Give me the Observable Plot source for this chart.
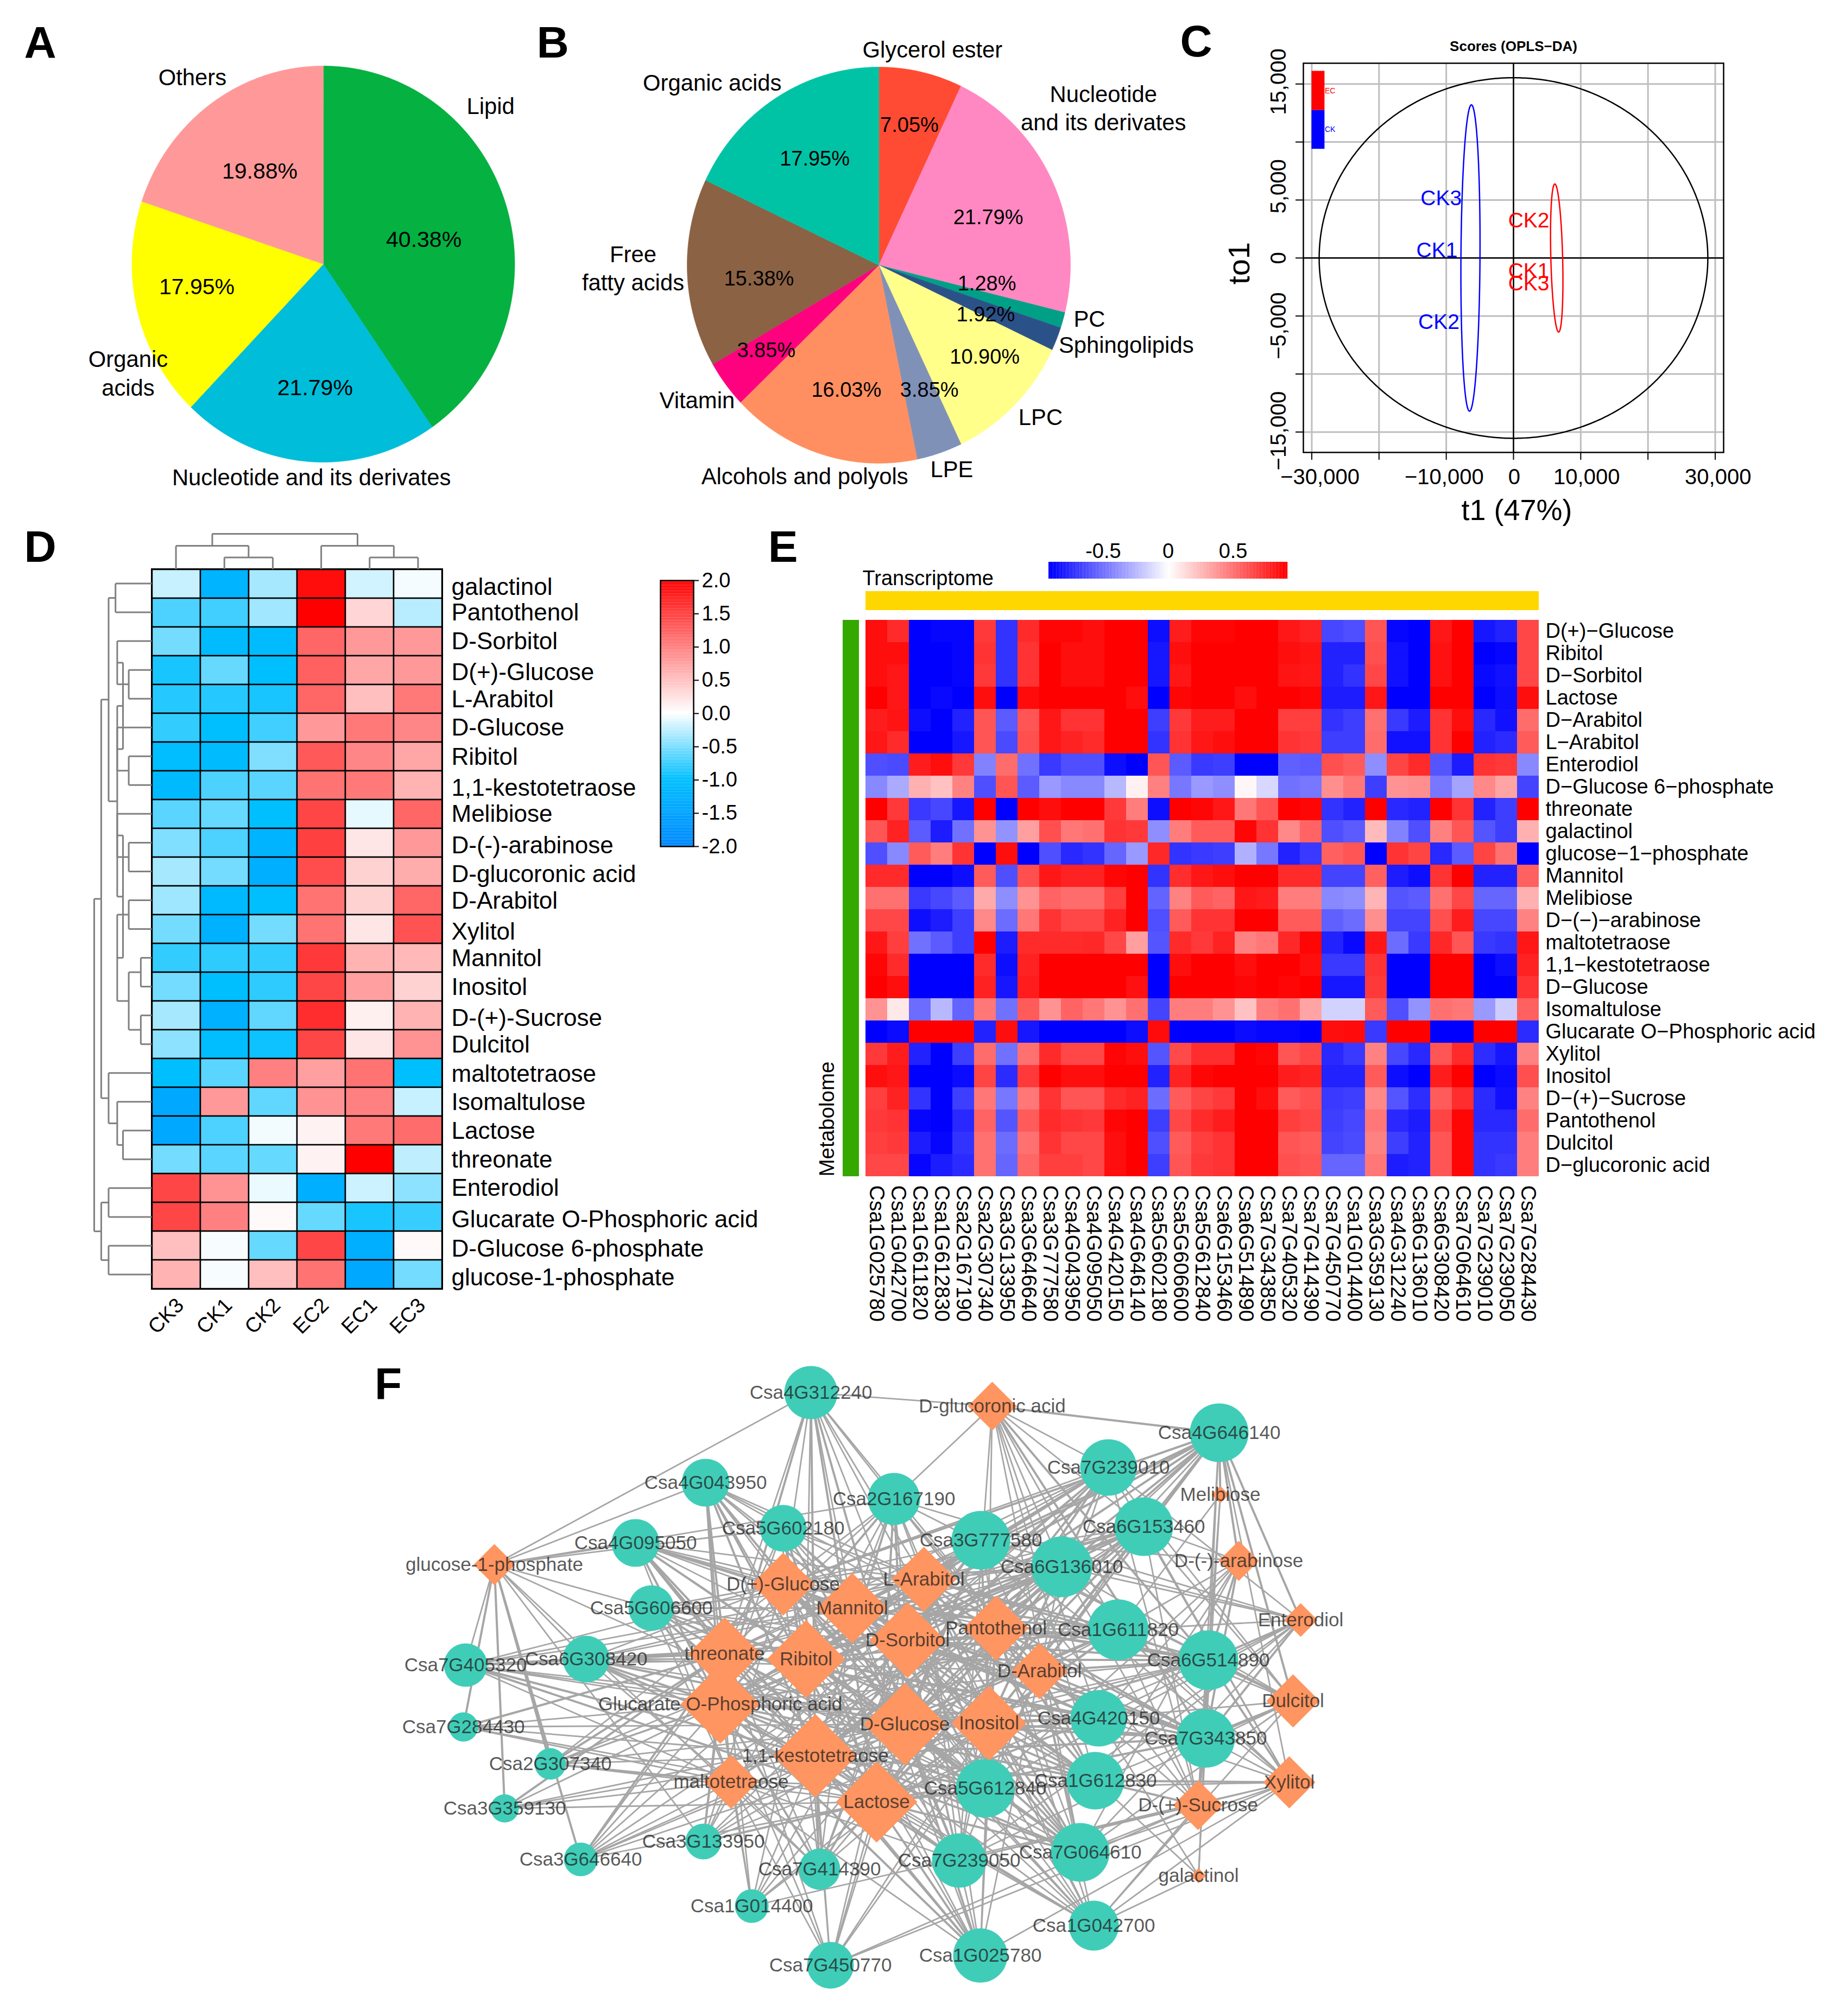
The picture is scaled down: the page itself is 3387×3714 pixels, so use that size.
<!DOCTYPE html>
<html><head><meta charset="utf-8">
<script src="https://cdn.jsdelivr.net/npm/d3@7"></script>
<script src="https://cdn.jsdelivr.net/npm/@observablehq/plot@0.6"></script>
<style>
html,body{margin:0;background:#fff}
#page{position:relative;width:3387px;height:3714px;overflow:hidden;font-family:"Liberation Sans",Arial,sans-serif}
.letter{position:absolute;font:bold 82px/1 "Liberation Sans",Arial,sans-serif;transform:translate(-50%,-50%)}
</style></head><body><div id="page"></div>
<script>
// ---------- DATA ----------
const pieANames=["Lipid","Nucleotide and its derivates","Organic acids","Others"];
const pieAValues=[40.38,21.79,17.95,19.88];
const pieAColors=["#04B141","#00BDD9","#FFFF00","#FF9999"];
const pieBNames=["Glycerol ester","Nucleotide and its derivates","PC","Sphingolipids","LPC","LPE","Alcohols and polyols","Vitamin","Free fatty acids","Organic acids"];
const pieBValues=[7.05,21.79,1.28,1.92,10.90,3.85,16.03,3.85,15.38,17.95];
const pieBColors=["#FF4B33","#FF88C2","#00A087","#2B5288","#FFFF8A","#8091B8","#FF8F60","#FF007F","#8B6244","#00C3A6"];
// label anchors, in units of the pie radius
const pieALabels=[["Lipid",.874,.797],["Others",-.684,.942],["Organic\nacids",-1.02,-.553],["Nucleotide and its derivates",-.062,-1.079]];
const pieAPct=[["40.38%",.525,.123],["19.88%",-.332,.468],["17.95%",-.661,-.116],["21.79%",-.043,-.625]];
const pieBLabels=[["Glycerol ester",.28,1.085],["Organic acids",-.869,.919],["Nucleotide\nand its derivates",1.172,.789],["Free\nfatty acids",-1.282,-.02],["Vitamin",-.948,-.685],["Alcohols and polyols",-.386,-1.068],["LPE",.381,-1.033],["LPC",.844,-.77],["PC",1.099,-.274],["Sphingolipids",1.291,-.406]];
const pieBPct=[["7.05%",.16,.705],["21.79%",.571,.239],["17.95%",-.334,.537],["15.38%",-.625,-.07],["1.28%",.564,-.095],["1.92%",.558,-.249],["10.90%",.553,-.464],["3.85%",-.587,-.431],["16.03%",-.169,-.632],["3.85%",.264,-.632]];

// Panel C scores
const scoreLabels=[["CK3",-10765,5160,"blue"],["CK1",-11390,624,"blue"],["CK2",-11100,-5530,"blue"],["CK2",2270,3230,"red"],["CK1",2270,-1134,"red"],["CK3",2270,-2212,"red"]];
const ellipses=[{cx:0,a:28900,b:0,ry:15540,color:"black"},{cx:-6400,a:1416,b:140,ry:13200,color:"blue"},{cx:6430,a:878,b:-283,ry:6380,color:"red"}];
const scoreXTicks=[-30000,-20000,-10000,0,10000,20000,30000];
const scoreYTicks=[-15000,-10000,-5000,0,5000,10000,15000];
// tick texts and the axis position where the reference prints each one
const scoreXShown=[-30000,-10000,0,10000,30000];
const scoreXTextAt=[-28780,-10310,110,10880,30425];
const scoreYShown=[-15000,-5000,0,5000,15000];
const scoreYTextAt=[-14890,-5840,0,6180,15200];
const scoreKey=[{name:"EC",y1:12730,y2:16110,color:"red"},{name:"CK",y1:9390,y2:12730,color:"blue"}];

// Panel D
const dCols=["CK3","CK1","CK2","EC2","EC1","EC3"];
const dRows=["galactinol","Pantothenol","D-Sorbitol","D(+)-Glucose","L-Arabitol","D-Glucose","Ribitol","1,1-kestotetraose","Melibiose","D-(-)-arabinose","D-glucoronic acid","D-Arabitol","Xylitol","Mannitol","Inositol","D-(+)-Sucrose","Dulcitol","maltotetraose","Isomaltulose","Lactose","threonate","Enterodiol","Glucarate O-Phosphoric acid","D-Glucose 6-phosphate","glucose-1-phosphate"];
const dRowLabelDrop=[6,0,0,4,1,0,1,5,0,5,5,1,5,1,1,5,1,2,1,1,1,0,5,6,6];
const dValues=[
[-.22,-1.2,-.35,1.9,-.18,-.04],[-.7,-.75,-.37,2,.33,-.28],[-.55,-1.05,-1.05,1.2,.8,.8],[-.9,-.6,-1,1.25,.7,.8],[-.85,-.85,-.9,1.2,.5,1.05],
[-.8,-1,-.75,.8,1.05,.95],[-1.02,-1.05,-.5,1.3,.95,.7],[-1.1,-.7,-.65,1.1,1.05,.6],[-.65,-.6,-1,1.45,-.1,1.2],[-.5,-.7,-1.2,1.5,.2,.8],
[-.35,-.55,-1.3,1.4,.35,.65],[-.38,-1.1,-1,1.1,.35,1.2],[-.55,-1.25,-.55,1.1,.2,1.35],[-.8,-.82,-.8,1.55,.6,.55],[-.55,-1,-.82,1.45,.75,.35],
[-.35,-1.25,-.62,1.65,.12,.6],[-.45,-1.02,-.95,1.45,.2,.85],[-1,-.65,1,.75,1.1,-1],[-1.4,.8,-.62,.85,1,-.22],[-1.4,-.7,-.05,.1,1.05,1.15],
[-.55,-.65,-.6,.1,2,-.25],[1.45,.85,-.08,-1.3,-.2,-.45],[1.45,1,.05,-.6,-.9,-.78],[.5,-.03,-.6,1.45,-1.3,.05],[.6,-.03,.5,1.1,-1.4,-.55]];
const dRowTree=[1,[.878,[.75,[.63,"galactinol","Pantothenol"],[.6,[.5,[.6,"D-Sorbitol",[.4,"D(+)-Glucose","L-Arabitol"]],[.6,"D-Glucose",[.4,"Ribitol","1,1-kestotetraose"]]],[.5,[.6,"Melibiose",[.4,"D-(-)-arabinose","D-glucoronic acid"]],[.6,[.4,"D-Arabitol","Xylitol"],[.4,[.19,"Mannitol","Inositol"],[.19,"D-(+)-Sucrose","Dulcitol"]]]]]],[.75,"maltotetraose",[.6,"Isomaltulose",[.5,"Lactose","threonate"]]]],[.878,[.75,"Enterodiol","Glucarate O-Phosphoric acid"],[.75,"D-Glucose 6-phosphate","glucose-1-phosphate"]]];
const dColTree=[1,[.66,"CK3",[.33,"CK1","CK2"]],[.66,"EC2",[.33,"EC1","EC3"]]];
const dLegendTicks=[-2,-1.5,-1,-.5,0,.5,1,1.5,2];

// Panel E
const eCols=["Csa1G025780","Csa1G042700","Csa1G611820","Csa1G612830","Csa2G167190","Csa2G307340","Csa3G133950","Csa3G646640","Csa3G777580","Csa4G043950","Csa4G095050","Csa4G420150","Csa4G646140","Csa5G602180","Csa5G606600","Csa5G612840","Csa6G153460","Csa6G514890","Csa7G343850","Csa7G405320","Csa7G414390","Csa7G450770","Csa1G014400","Csa3G359130","Csa4G312240","Csa6G136010","Csa6G308420","Csa7G064610","Csa7G239010","Csa7G239050","Csa7G284430"];
const eRows=["D(+)−Glucose","Ribitol","D−Sorbitol","Lactose","D−Arabitol","L−Arabitol","Enterodiol","D−Glucose 6−phosphate","threonate","galactinol","glucose−1−phosphate","Mannitol","Melibiose","D−(−)−arabinose","maltotetraose","1,1−kestotetraose","D−Glucose","Isomaltulose","Glucarate O−Phosphoric acid","Xylitol","Inositol","D−(+)−Sucrose","Pantothenol","Dulcitol","D−glucoronic acid"];
// correlation x 100
const eValues=[
[85,75,-90,-88,-88,70,-72,75,88,88,85,90,90,-85,80,88,88,90,90,82,78,-65,-62,60,-88,-90,82,90,-82,-78,65],
[85,85,-90,-90,-88,72,-72,72,90,85,85,90,90,-82,85,90,90,90,90,85,83,-78,-78,62,-84,-90,84,90,-90,-88,65],
[85,82,-90,-90,-88,70,-72,72,90,85,85,90,90,-82,82,90,90,90,90,83,82,-78,-72,65,-84,-90,84,90,-87,-84,65],
[90,82,-90,-87,-90,85,-90,86,90,90,90,90,85,-90,88,90,90,85,90,90,88,-80,-80,82,-90,-90,90,90,-90,-85,85],
[80,83,-85,-90,-78,60,-58,60,82,72,72,90,90,-68,70,80,80,90,90,68,68,-72,-68,50,-70,-80,72,85,-76,-84,52],
[82,75,-90,-90,-82,60,-64,62,82,78,75,90,90,-72,72,82,85,90,90,72,70,-68,-68,52,-84,-84,72,90,-78,-75,58],
[-62,-64,80,85,70,-44,52,-50,-70,-62,-62,-85,-90,60,-58,-70,-68,-90,-90,-56,-58,62,58,-40,66,75,-60,-80,72,70,-42],
[-42,-30,28,22,44,-62,60,-58,-36,-42,-42,-25,5,45,-48,-36,-40,3,-14,-50,-48,40,48,-68,38,40,-48,-32,42,32,-66],
[90,70,-70,-65,-82,90,-90,90,85,90,90,70,46,-85,90,88,82,48,60,90,88,-72,-78,90,-76,-78,90,72,-78,-68,90],
[60,78,-58,-80,-50,38,-38,34,62,48,50,72,70,-40,46,58,58,88,72,42,55,-62,-58,24,-44,-62,45,60,-60,-68,28],
[-62,-42,58,46,72,-90,85,-90,-62,-76,-72,-54,-36,76,-72,-70,-68,-28,-48,-78,-70,56,60,-90,72,66,-76,-58,66,50,-90],
[75,75,-90,-90,-85,58,-62,62,82,78,78,88,90,-72,74,82,85,90,90,75,75,-66,-66,56,-80,-85,72,90,-78,-78,56],
[50,50,-70,-65,-58,30,-40,38,55,52,52,68,90,-55,44,58,55,82,80,46,46,-42,-40,26,-60,-58,50,65,-54,-54,28],
[65,65,-85,-80,-68,42,-52,48,72,65,65,78,90,-62,58,72,72,90,90,58,58,-56,-52,40,-66,-66,62,80,-65,-65,44],
[82,68,-50,-58,-68,90,-80,75,75,75,76,65,34,-60,75,70,78,44,48,76,88,-78,-87,82,-52,-70,76,60,-70,-72,82],
[88,75,-90,-90,-90,75,-85,78,90,90,90,90,90,-90,85,90,90,85,90,90,85,-70,-70,72,-90,-90,90,90,-90,-85,78],
[90,85,-90,-90,-90,78,-82,80,90,90,90,90,84,-90,90,90,90,88,90,88,90,-82,-82,70,-90,-90,90,90,-90,-90,72],
[38,8,-52,-25,-55,48,-50,58,38,55,48,38,50,-66,46,46,38,22,46,50,32,-16,-16,58,-62,-38,50,48,-36,-18,56],
[-90,-86,90,90,90,-78,85,-82,-90,-90,-90,-90,-85,86,-90,-90,-90,-86,-88,-88,-90,85,86,-70,90,90,-90,-90,90,90,-75],
[70,80,-78,-90,-68,52,-50,50,75,65,65,88,85,-60,64,74,74,90,88,60,65,-76,-70,44,-65,-76,60,75,-74,-82,44],
[85,82,-90,-90,-86,66,-75,70,90,85,85,90,90,-78,78,88,90,90,90,80,78,-78,-78,58,-85,-90,80,90,-90,-86,62],
[68,78,-72,-90,-68,48,-48,48,72,60,60,75,78,-52,58,66,70,90,85,58,62,-70,-68,42,-60,-74,58,74,-75,-84,44],
[70,72,-88,-90,-76,55,-60,58,75,72,70,88,90,-68,65,75,80,90,90,68,65,-68,-65,48,-76,-80,66,88,-76,-76,52],
[68,70,-80,-88,-72,50,-52,50,72,65,65,85,90,-62,58,68,72,90,90,60,58,-66,-64,44,-68,-78,60,88,-72,-72,46],
[65,65,-88,-80,-75,50,-54,54,68,68,65,85,90,-68,60,70,72,90,90,62,60,-54,-54,48,-80,-78,60,88,-72,-70,46]];

// Panel F network layout (node order of genes follows eCols)
const netGeneX=[1805,2014,2059,2017,1646,1013,1295,1069,1806,1299,1170,2023,2245,1442,1199,1814,2106,2225,2220,857,1509,1529,1384,929,1493,1955,1079,1989,2041,1766,853];
const netGeneY=[3602,3547,3002,3280,2761,3249,3392,3425,2837,2731,2842,3165,2639,2815,2962,3294,2812,3058,3202,3067,3443,3620,3511,3331,2565,2886,3056,3412,2703,3427,3181];
const netGeneSize=[50,46,56,53,48,29,33,31,54,44,44,52,54,43,42,54,54,55,54,40,38,43,31,26,49,56,43,54,52,50,27];
const netMetabolites=["glucose-1-phosphate","D-glucoronic acid","D(+)-Glucose","Mannitol","L-Arabitol","threonate","Ribitol","D-Sorbitol","Pantothenol","Glucarate O-Phosphoric acid","D-Glucose","Inositol","D-Arabitol","1,1-kestotetraose","maltotetraose","Lactose","D-(+)-Sucrose","Xylitol","Dulcitol","Enterodiol","D-(-)-arabinose","Melibiose","galactinol"];
const netMetX=[910,1827,1442,1569,1701,1334,1484,1671,1834,1326,1666,1821,1914,1501,1346,1614,2206,2374,2381,2395,2281,2247,2207];
const netMetY=[2882,2590,2918,2962,2909,3046,3056,3021,2999,3139,3176,3174,3078,3234,3282,3319,3325,3283,3133,2984,2875,2753,3455];
const netMetSize=[38,45,58,65,60,67,72,70,60,73,76,69,52,77,50,75,46,48,49,31,37,16,14];
const netEdgeCut=70; // correlation x 100 at which a metabolite–gene edge is drawn

// ---------- HELPERS ----------
const page=document.getElementById("page");
const FONT='"Liberation Sans",Arial,sans-serif';
function place(left,top,opts){
  const svg=Plot.plot({style:{position:"absolute",left:left+"px",top:top+"px",background:"transparent",overflow:"visible",fontFamily:FONT,maxWidth:"none",color:"black"},...opts});
  page.appendChild(svg);return svg;
}
function letter(t,x,y){const d=document.createElement("div");d.className="letter";d.textContent=t;d.style.left=x+"px";d.style.top=y+"px";page.appendChild(d);}
function wedges(names,values){
  const total=d3.sum(values);let acc=0;const pts=[];
  names.forEach((name,i)=>{
    const a0=acc/total*2*Math.PI;acc+=values[i];const a1=acc/total*2*Math.PI;
    pts.push({name,ux:0,uy:0});
    const n=Math.max(2,Math.ceil((a1-a0)/0.01));
    for(let k=0;k<=n;k++){const a=a0+(a1-a0)*k/n;pts.push({name,ux:Math.sin(a),uy:Math.cos(a)});}
  });return pts;
}
function pie(left,top,W,H,cx,cy,rx,ry,names,values,colors,labels,pct,labelSize,pctSize,lh){
  place(left,top,{width:W,height:H,margin:0,
    x:{domain:[(left-cx)/rx,(left+W-cx)/rx],range:[0,W],axis:null},
    y:{domain:[(cy-top)/ry,(cy-top-H)/ry],range:[0,H],axis:null},
    color:{domain:names,range:colors},
    marks:[
      Plot.line(wedges(names,values),{x:"ux",y:"uy",z:"name",fill:"name",stroke:"name",strokeWidth:.6,curve:"linear-closed"}),
      Plot.text(labels,{x:d=>d[1],y:d=>d[2],text:d=>d[0],fontSize:labelSize,lineHeight:lh,fill:"black",dy:-3}),
      Plot.text(pct,{x:d=>d[1],y:d=>d[2],text:d=>d[0],fontSize:pctSize,fill:"black"})
    ]});
}
function dendro(tree){
  const segs=[];let leaf=0;
  (function walk(n){
    if(!Array.isArray(n))return{pos:leaf++ +.5,h:0};
    const A=walk(n[1]),B=walk(n[2]),h=n[0];
    segs.push({h1:h,p1:A.pos,h2:h,p2:B.pos},{h1:A.h,p1:A.pos,h2:h,p2:A.pos},{h1:B.h,p1:B.pos,h2:h,p2:B.pos});
    return{pos:(A.pos+B.pos)/2,h};
  })(tree);
  return segs;
}

// ---------- A, B ----------
letter("A",74,78);letter("B",1018,78);letter("C",2203,76);letter("D",74,1007);letter("E",1442,1007);letter("F",715,2550);
pie(0,0,1100,950,595,486,352.5,365,pieANames,pieAValues,pieAColors,pieALabels,pieAPct,41.8,41,1.27);
pie(1000,0,1250,950,1618,488,353,365,pieBNames,pieBValues,pieBColors,pieBLabels,pieBPct,41.8,38,1.24);

// ---------- C ----------
(function(){
  const fmt=d3.format(",");
  const xL=-31250,yB=-16760,marks=[];
  marks.push(Plot.ruleX(scoreXTicks,{stroke:"#bebebe",strokeWidth:3}));
  marks.push(Plot.ruleY(scoreYTicks,{stroke:"#bebebe",strokeWidth:3}));
  marks.push(Plot.ruleX([0],{stroke:"black",strokeWidth:2.5}));
  marks.push(Plot.ruleY([0],{stroke:"black",strokeWidth:2.5}));
  ellipses.forEach(e=>{
    const pts=d3.range(0,2*Math.PI+.01,.01).map(t=>({x:e.cx+e.a*Math.cos(t)+e.b*Math.sin(t),y:e.ry*Math.sin(t)}));
    marks.push(Plot.line(pts,{x:"x",y:"y",stroke:e.color,strokeWidth:2.5}));
  });
  marks.push(Plot.rect(scoreKey,{x1:-30000,x2:-28070,y1:"y1",y2:"y2",fill:"color"}));
  marks.push(Plot.text(scoreKey,{x:-28070,y:d=>(d.y1+d.y2)/2,text:"name",fill:"color",fontSize:14,textAnchor:"start"}));
  marks.push(Plot.text(scoreLabels,{x:d=>d[1],y:d=>d[2],text:d=>d[0],fill:d=>d[3],fontSize:39}));
  marks.push(Plot.axisX(scoreXTicks,{anchor:"bottom",tickSize:14,strokeWidth:2,label:null,tickFormat:()=>""}));
  marks.push(Plot.axisY(scoreYTicks,{anchor:"left",tickSize:14,strokeWidth:2,label:null,tickFormat:()=>""}));
  marks.push(Plot.text(scoreXShown,{x:(d,i)=>scoreXTextAt[i],y:yB,text:d=>fmt(d),dy:46,fontSize:40}));
  marks.push(Plot.text(scoreYShown,{x:xL,y:(d,i)=>scoreYTextAt[i],text:d=>fmt(d),rotate:-90,dx:-45,fontSize:40}));
  marks.push(Plot.frame({stroke:"black",strokeWidth:2.5}));
  marks.push(Plot.text(["Scores (OPLS−DA)"],{frameAnchor:"top",lineAnchor:"middle",dy:-31,fontSize:26,fontWeight:"bold"}));
  marks.push(Plot.text(["t1 (47%)"],{frameAnchor:"bottom",lineAnchor:"middle",dy:107,dx:6,fontSize:54}));
  marks.push(Plot.text(["to1"],{frameAnchor:"left",rotate:-90,dx:-117,dy:10,fontSize:56,lineAnchor:"middle",textAnchor:"middle"}));
  place(2250,60,{width:1000,height:900,marginLeft:150,marginTop:56,marginRight:76,marginBottom:127,
    x:{domain:[xL,31250],axis:null},y:{domain:[yB,16790],axis:null},color:{type:"identity"},marks});
})();

// ---------- D ----------
const dCells=dRows.flatMap((row,i)=>dCols.map((col,j)=>({row,col,v:dValues[i][j]})));
const dColor={type:"linear",domain:[-2,-1,0,2],range:["#0088FF","#00BFFF","#FFFFFF","#FF0000"]};
place(279,1047.6,{width:535+720,height:1326+110,marginLeft:0,marginTop:0,marginRight:720,marginBottom:110,
  x:{domain:dCols,padding:0,axis:null},y:{domain:dRows,padding:0,axis:null},color:dColor,
  marks:[
    Plot.cell(dCells,{x:"col",y:"row",fill:"v",stroke:"black",strokeWidth:2.5}),
    Plot.frame({stroke:"black",strokeWidth:3}),
    ...d3.groups(dRows,(d,i)=>dRowLabelDrop[dRows.indexOf(d)]).map(([drop,rows])=>
      Plot.text(rows,{frameAnchor:"right",y:d=>d,text:d=>d,textAnchor:"start",dx:17,dy:drop,fontSize:44})),
    Plot.axisX({anchor:"bottom",tickSize:0,tickPadding:24,dx:7,tickRotate:-45,fontSize:38,label:null})
  ]});
place(173,1047.6,{width:106,height:1326,margin:0,x:{domain:[1,0],range:[0,106],axis:null},y:{domain:[0,25],range:[0,1326],axis:null},
  marks:[Plot.link(dendro(dRowTree),{x1:"h1",y1:"p1",x2:"h2",y2:"p2",stroke:"#808080",strokeWidth:3})]});
place(279,982.5,{width:535,height:65,margin:0,x:{domain:[0,6],range:[0,535],axis:null},y:{domain:[0,1],range:[65,0],axis:null},
  marks:[Plot.link(dendro(dColTree),{x1:"p1",y1:"h1",x2:"p2",y2:"h2",stroke:"#808080",strokeWidth:3})]});
place(1216,1069,{width:61+130,height:490,marginLeft:0,marginRight:130,marginTop:0,marginBottom:0,
  x:{domain:[0,1],axis:null},y:{domain:[-2,2],axis:null},color:dColor,
  marks:[
    Plot.rect(d3.range(-2,2,.02).map(v=>({v})),{x1:0,x2:1,y1:"v",y2:d=>d.v+.021,fill:"v"}),
    Plot.frame({stroke:"black",strokeWidth:2.5}),
    Plot.axisY(dLegendTicks,{anchor:"right",tickSize:9,tickPadding:6,fontSize:38,strokeWidth:2,label:null,tickFormat:d=>d.toFixed(1)})
  ]});

// ---------- E ----------
const eCells=eRows.flatMap((row,i)=>eCols.map((col,j)=>({row,col,v:eValues[i][j]/100})));
const eColor={type:"linear",domain:[-.9,0,.9],range:["#0000FF","#FFFFFF","#FF0000"]};
place(1587.6,1132,{width:1252+600,height:1045+270,marginLeft:0,marginTop:0,marginRight:600,marginBottom:270,
  x:{domain:eCols,padding:0,axis:null},y:{domain:eRows,padding:0,axis:null},color:eColor,
  marks:[
    Plot.cell(eCells,{x:"col",y:"row",fill:"v"}),
    Plot.axisY({anchor:"right",tickSize:0,tickPadding:6,fontSize:38,label:null}),
    Plot.axisX({anchor:"bottom",tickSize:0,tickPadding:6,tickRotate:90,fontSize:39,label:null})
  ]});
place(1587.6,1020,{width:1252,height:104,marginLeft:0,marginRight:0,marginBottom:0,marginTop:69,
  x:{domain:eCols,padding:0,axis:null},y:{domain:["Transcriptome"],padding:0,axis:null},
  marks:[Plot.cell(eCols,{x:d=>d,y:()=>"Transcriptome",fill:"#FFD700"}),
    Plot.text(["Transcriptome"],{frameAnchor:"top-left",lineAnchor:"bottom",textAnchor:"start",dy:-12,fontSize:38})]});
place(1500,1132,{width:82,height:1045,marginLeft:52,marginRight:0,marginTop:0,marginBottom:0,
  x:{domain:["Metabolome"],padding:0,axis:null},y:{domain:eRows,padding:0,axis:null},
  marks:[Plot.cell(eRows,{x:()=>"Metabolome",y:d=>d,fill:"#35A800"}),
    Plot.text(["Metabolome"],{frameAnchor:"bottom-left",rotate:-90,textAnchor:"start",lineAnchor:"middle",dx:-29,dy:-10,fontSize:38.5})]});
place(1931,985,{width:440,height:81,marginLeft:0,marginRight:0,marginBottom:0,marginTop:50,
  x:{domain:[-.92,.92],axis:null},y:{domain:[0,1],axis:null},color:eColor,
  marks:[Plot.rect(d3.range(-.92,.92,.01).map(v=>({v})),{x1:"v",x2:d=>d.v+.011,y1:0,y2:1,fill:"v"}),
    Plot.axisX([-.5,0,.5],{anchor:"top",tickSize:0,tickPadding:8,fontSize:38,label:null,tickFormat:d=>String(d)})]});

// ---------- F ----------
(function(){
  const genes=eCols.map((name,i)=>({name,x:netGeneX[i],y:netGeneY[i],r:netGeneSize[i]}));
  const mets=netMetabolites.map((name,i)=>({name,x:netMetX[i],y:netMetY[i],r:netMetSize[i]/1.11}));
  const edges=[];
  mets.forEach(m=>{
    const row=eRows.findIndex(r=>r.replace(/−/g,"-")===m.name);
    genes.forEach((g,j)=>{const v=Math.abs(eValues[row][j]);
      if(v>=netEdgeCut)edges.push({x1:m.x,y1:m.y,x2:g.x,y2:g.y,w:v>=89?4:2.8});});
  });
  place(0,2450,{width:3387,height:1264,margin:0,
    x:{domain:[0,3387],range:[0,3387],axis:null},y:{domain:[2450,3714],range:[0,1264],axis:null},r:{type:"identity"},
    marks:[
      Plot.link(edges,{x1:"x1",y1:"y1",x2:"x2",y2:"y2",stroke:"#A6A6A6",strokeWidth:"w"}),
      Plot.dot(genes,{x:"x",y:"y",r:"r",fill:"#40CDB8",stroke:"none"}),
      Plot.dot(mets,{x:"x",y:"y",r:"r",symbol:"diamond2",fill:"#FF9560",stroke:"none"}),
      Plot.text([...genes,...mets],{x:"x",y:"y",text:"name",fontSize:35,fill:"#222",fillOpacity:.75})
    ]});
})();
</script></body></html>
